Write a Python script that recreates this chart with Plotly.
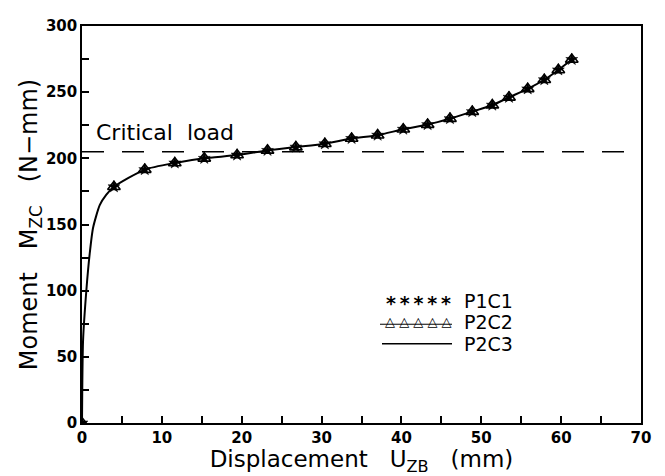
import plotly.graph_objects as go

# Marker series (P1C1 asterisks, P2C2 triangles)
disp_p1c1 = [0, 4.0, 7.86, 11.62, 15.31, 19.42, 23.23, 26.78, 30.41, 33.76, 37.02,
             40.23, 43.28, 46.08, 48.87, 51.38, 53.47, 55.81, 57.89, 59.65, 61.33]
moment_p1c1 = [0, 178.5, 191.5, 196.5, 200.0, 202.5, 206.0, 208.5, 211.0, 215.0, 217.5,
               222.0, 225.5, 230.0, 235.3, 240.2, 246.1, 252.5, 259.4, 266.8, 274.7]
disp_p2c2 = list(disp_p1c1)
moment_p2c2 = list(moment_p1c1)

# Solid line series (P2C3)
disp_p2c3 = [0, 0.13, 0.55, 0.96, 1.38, 2.22, 3.05, 4.0, 7.86, 11.62, 15.31, 19.42, 23.23,
             26.78, 30.41, 33.76, 37.02, 40.23, 43.28, 46.08, 48.87, 51.38, 53.47, 55.81,
             57.89, 59.65, 61.33]
moment_p2c3 = [0, 62, 100.5, 127.7, 147.4, 164.6, 172.5, 178.5, 191.5, 196.5, 200.0, 202.5,
               206.0, 208.5, 211.0, 215.0, 217.5, 222.0, 225.5, 230.0, 235.3, 240.2, 246.1,
               252.5, 259.4, 266.8, 274.7]

critical_load = 205
x_range = [0, 70]
y_range = [0, 300]
x_ticks = [0, 10, 20, 30, 40, 50, 60, 70]
y_ticks = [0, 50, 100, 150, 200, 250, 300]

FONT = "DejaVu Sans"

# page body has an 8px margin; compensate so the plot area lands where the reference has it
OFF = 8
L, R, T, B = 82 - OFF, 641 - OFF, 17 - OFF, 423 - OFF
W, H = 665 - OFF, 476 - OFF
PW, PH = R - L, B - T


def px_x(px):
    return (px - OFF - L) / PW


def px_y(py):
    return 1 - (py - OFF - T) / PH


fig = go.Figure()

fig.add_trace(go.Scatter(x=disp_p2c3, y=moment_p2c3, mode="lines", name="P2C3",
                         line=dict(color="black", width=2, shape="spline", smoothing=0.6),
                         showlegend=False))
fig.add_trace(go.Scatter(x=disp_p2c2, y=moment_p2c2, mode="markers", name="P2C2",
                         marker=dict(symbol="triangle-up-open", size=11, color="black",
                                     line=dict(width=1.6, color="black")),
                         showlegend=False))
fig.add_trace(go.Scatter(x=disp_p1c1, y=moment_p1c1, mode="markers", name="P1C1",
                         marker=dict(symbol="star", size=9, color="black",
                                     line=dict(width=0.5, color="black")),
                         showlegend=False))

# Critical load dashed line
fig.add_shape(type="line", xref="x", yref="y", x0=x_range[0], x1=69, y0=critical_load,
              y1=critical_load, line=dict(color="black", width=1.5, dash="22px,18px"))
fig.add_annotation(x=px_x(94), y=px_y(126), xref="paper", yref="paper", text="Critical  load",
                   showarrow=False, xanchor="left", yanchor="middle",
                   font=dict(family=FONT, size=22, color="black"))

# Custom legend
fig.add_annotation(x=px_x(453), y=px_y(300), xref="paper", yref="paper",
                   text="<b>*\u2009*\u2009*\u2009*\u2009*</b>", showarrow=False,
                   xanchor="right", yanchor="middle",
                   font=dict(family=FONT, size=19, color="black"))
fig.add_shape(type="line", xref="paper", yref="paper", x0=px_x(380), x1=px_x(452),
              y0=px_y(322), y1=px_y(322), line=dict(color="black", width=1))
fig.add_annotation(x=px_x(454), y=px_y(319), xref="paper", yref="paper",
                   text="△ △ △ △ △", showarrow=False, xanchor="right", yanchor="middle",
                   font=dict(family=FONT, size=13, color="black"))
fig.add_shape(type="line", xref="paper", yref="paper", x0=px_x(382), x1=px_x(452),
              y0=px_y(342), y1=px_y(342), line=dict(color="black", width=1.5))
for name, ypix in [("P1C1", 298), ("P2C2", 320), ("P2C3", 342)]:
    fig.add_annotation(x=px_x(462), y=px_y(ypix), xref="paper", yref="paper", text=name,
                       showarrow=False, xanchor="left", yanchor="middle",
                       font=dict(family=FONT, size=19, color="black"))

fig.update_layout(
    width=W, height=H,
    margin=dict(l=L, r=W - R, t=T, b=H - B),
    paper_bgcolor="white", plot_bgcolor="white",
    font=dict(family=FONT, color="black"),
    showlegend=False,
)
fig.update_xaxes(range=x_range, tickvals=x_ticks, ticks="inside", ticklen=7, tickwidth=1.5,
                 tickcolor="black", showline=True, linecolor="black", linewidth=1.5,
                 mirror=True, showgrid=False, zeroline=False,
                 minor=dict(dtick=5, ticks="inside", ticklen=7, tickwidth=1.5, tickcolor="black"),
                 tickfont=dict(family=FONT, size=15, color="black", weight="bold"),
                 title=dict(text="Displacement   U<sub>ZB</sub>   (mm)",
                            font=dict(family=FONT, size=23, color="black"), standoff=3))
fig.update_yaxes(range=y_range, tickvals=y_ticks, ticks="inside", ticklen=7, tickwidth=1.5,
                 tickcolor="black", showline=True, linecolor="black", linewidth=1.5,
                 mirror=True, showgrid=False, zeroline=False,
                 minor=dict(dtick=25, ticks="inside", ticklen=7, tickwidth=1.5, tickcolor="black"),
                 tickfont=dict(family=FONT, size=15, color="black", weight="bold"),
                 title=dict(text="Moment   M<sub>ZC</sub>   (N−mm)",
                            font=dict(family=FONT, size=24, color="black"), standoff=2))

fig.write_html("out.html")
